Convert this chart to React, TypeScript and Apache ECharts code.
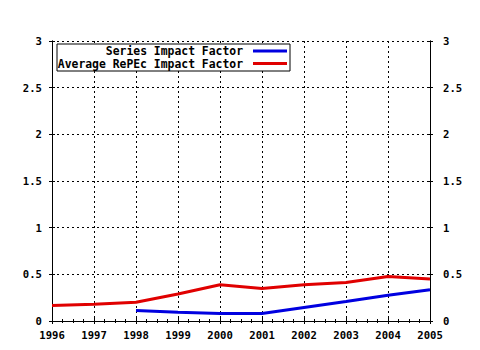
import React, { useEffect, useRef } from "react";
import * as echarts from "echarts";

const years = [1996, 1997, 1998, 1999, 2000, 2001, 2002, 2003, 2004, 2005];
const seriesImpact: (number | null)[] = [null, null, 0.113, 0.095, 0.081, 0.081, 0.145, 0.208, 0.275, 0.335];
const averageImpact: number[] = [0.166, 0.18, 0.2, 0.29, 0.388, 0.349, 0.388, 0.412, 0.476, 0.45];
const seriesNames = ["Series Impact Factor", "Average RePEc Impact Factor"];
const seriesColors = ["#0000e0", "#e00000"];
const yTicks = { min: 0, max: 3, interval: 0.5 };

const FONT = "'DejaVu Sans Mono', monospace";

export default function App() {
  const ref = useRef<HTMLDivElement>(null);
  useEffect(() => {
    document.body.style.margin = "0";
    const chart = echarts.init(ref.current!, null, { renderer: "svg" });
    const axisLabel = { fontFamily: FONT, fontWeight: "bold" as const, fontSize: 10.6, color: "#000" };
    const dotted = { show: true, lineStyle: { color: "#000", type: [2, 3] as any, width: 1 } };
    const yBase = (pos: "left" | "right", inside: boolean, labels: boolean, split: boolean) => ({
      type: "value" as const,
      position: pos,
      min: yTicks.min,
      max: yTicks.max,
      interval: yTicks.interval,
      axisLine: { show: true, lineStyle: { color: "#000", width: 1 } },
      axisTick: { show: true, inside, length: 3, lineStyle: { color: "#000" } },
      axisLabel: labels
        ? { ...axisLabel, show: true, margin: pos === "left" ? 10 : 13, formatter: (v: number) => String(v) }
        : { show: false },
      splitLine: split ? dotted : { show: false },
    });
    const xBase = (pos: "top" | "bottom", inside: boolean, labels: boolean, split: boolean, major: boolean) => ({
      type: "value" as const,
      position: pos,
      min: years[0],
      max: years[years.length - 1],
      interval: 1,
      axisLine: { show: true, lineStyle: { color: "#000", width: 1 } },
      axisTick: { show: major, inside, length: 3, lineStyle: { color: "#000" } },
      minorTick: { show: inside, splitNumber: 4, length: 2, lineStyle: { color: "#000" } },
      axisLabel: labels
        ? { ...axisLabel, show: true, margin: 8, formatter: (v: number) => String(v) }
        : { show: false },
      splitLine: split ? dotted : { show: false },
    });
    const legendLeft = 57, legendTop = 44, legendW = 233, legendH = 27;
    chart.setOption({
      animation: false,
      backgroundColor: "#fff",
      grid: { left: 52, right: 50, top: 41, bottom: 29, containLabel: false },
      xAxis: [
        xBase("bottom", false, true, true, true),
        xBase("bottom", true, false, false, true),
        xBase("top", true, false, false, false),
      ],
      yAxis: [
        yBase("left", false, true, true),
        yBase("right", false, true, false),
        yBase("left", true, false, false),
        yBase("right", true, false, false),
      ],
      series: [
        {
          name: seriesNames[0],
          type: "line",
          xAxisIndex: 0,
          yAxisIndex: 0,
          data: years.map((y, i) => [y, seriesImpact[i]]),
          showSymbol: false,
          connectNulls: false,
          lineStyle: { color: seriesColors[0], width: 3 },
          itemStyle: { color: seriesColors[0] },
          z: 3,
        },
        {
          name: seriesNames[1],
          type: "line",
          xAxisIndex: 0,
          yAxisIndex: 0,
          data: years.map((y, i) => [y, averageImpact[i]]),
          showSymbol: false,
          lineStyle: { color: seriesColors[1], width: 3 },
          itemStyle: { color: seriesColors[1] },
          z: 3,
        },
      ],
      graphic: [
        {
          type: "rect",
          shape: { x: legendLeft, y: legendTop, width: legendW, height: legendH },
          style: { fill: "#fff", stroke: "#000", lineWidth: 1 },
          z: 10,
        },
        ...seriesNames.flatMap((name, i) => [
          {
            type: "text",
            x: 243,
            y: 51 + i * 12.5,
            style: {
              text: name,
              fontFamily: FONT,
              fontWeight: "bold",
              fontSize: 11.4,
              fill: "#000",
              align: "right",
              verticalAlign: "middle",
            },
            z: 11,
          },
          {
            type: "line",
            shape: { x1: 253, y1: 51 + i * 12.5, x2: 287, y2: 51 + i * 12.5 },
            style: { stroke: seriesColors[i], lineWidth: 3 },
            z: 11,
          },
        ]),
      ],
    });
    return () => chart.dispose();
  }, []);
  return <div ref={ref} style={{ width: 480, height: 350 }} />;
}
